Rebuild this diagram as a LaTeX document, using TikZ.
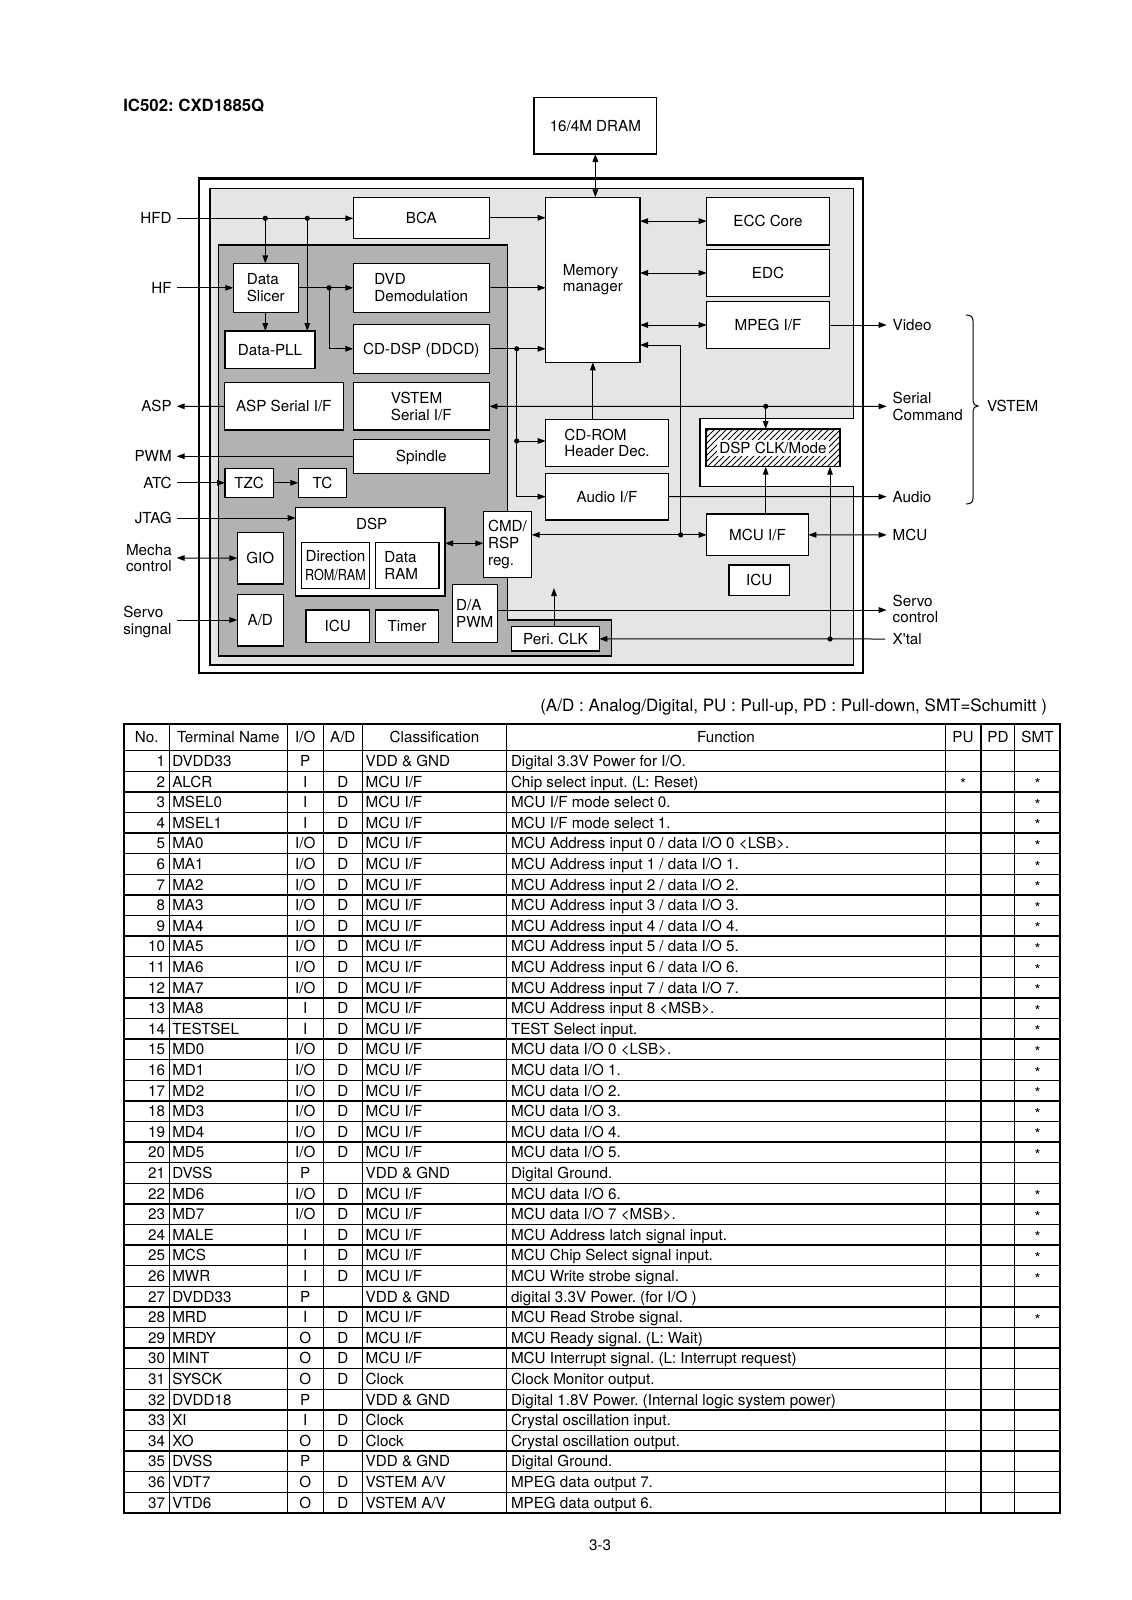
\documentclass[tikz,border=0pt]{standalone}
\usepackage{fontspec}
\setmainfont{TeX Gyre Heros}
\usepackage{graphicx}
\usetikzlibrary{arrows.meta,patterns}
\frenchspacing
\definecolor{lightreg}{gray}{0.9}
\definecolor{darkreg}{gray}{0.7}
\newcommand\mybox[7][]{%
  \node[box,#1,minimum width={(#5-#3)/2},minimum height={(#6-#4)/2}] (#2) at ({(#3+#5)/2},{(#4+#6)/2}) {#7};}
\newcommand\tabrow[8]{%
  \pgfmathsetmacro\ry{740.4+#1*20.6}%
  \node[one,anchor=east] (no#1) at (165,\ry) {#1};
  \node[one,anchor=west] (tn#1) at (172.3,\ry) {#2};
  \node[one] (io#1) at (305.3,\ry) {#3};
  \if\relax\detokenize{#4}\relax\else\node[one] (ad#1) at (342.8,\ry) {#4};\fi
  \node[one,anchor=west] (cl#1) at (365.7,\ry) {#5};
  \node[one,anchor=west] (fn#1) at (511,\ry) {#6};
  \if\relax\detokenize{#7}\relax\else\node[one,star] (pu#1) at (963,\ry) {#7};\fi
  \if\relax\detokenize{#8}\relax\else\node[one,star] (smt#1) at (1037.5,\ry) {#8};\fi
}
\begin{document}
\begin{tikzpicture}[x=0.5pt,y=-0.5pt,
  every node/.style={font=\fontsize{7.6}{8.3}\selectfont, inner sep=0pt, outer sep=0pt},
  box/.style={draw, line width=0.65pt, fill=white},
  ln/.style={line width=0.5pt},
  arr/.style={ln, -{Triangle[length=4pt,width=2.8pt]}},
  darr/.style={ln, {Triangle[length=4pt,width=2.8pt]}-{Triangle[length=4pt,width=2.8pt]}},
  one/.style={text height=5.5pt, text depth=0pt},
  star/.style={yshift=-1.3pt},
  tline/.style={line width=0.65pt}]
\fill[white] (0,0) rectangle (1131,1600);
\useasboundingbox (0,0) rectangle (1131,1600);

% title
\node[anchor=west, font={\fontsize{8.4}{10}\selectfont\bfseries}, text height=6pt, text depth=0pt] (title) at (123.3,106) {IC502: CXD1885Q};

% regions
\draw[line width=1.1pt, fill=white] (199.3,178.5) rectangle (863.3,673.3);
\draw[line width=0.65pt, fill=lightreg] (210,188.3) -- (853.3,188.3) -- (853.3,418.3) -- (700,418.3) -- (700,486.7) -- (853.3,486.7) -- (853.3,665) -- (210,665) -- cycle;
\draw[line width=0.65pt, fill=darkreg] (218.3,245) -- (507.7,245) -- (507.7,620) -- (611.7,620) -- (611.7,656) -- (218.3,656) -- cycle;

% boxes
\mybox[one]{dram}{534}{97.3}{656.7}{154}{16/4M DRAM}
\mybox[one]{bca}{353.3}{197.3}{489.3}{238.3}{BCA}
\mybox[align=left]{slicer}{233.3}{263.3}{298.3}{312.3}{Data\\Slicer}
\mybox[align=left]{dvd}{353.3}{263.3}{489.3}{312.3}{DVD\\Demodulation}
\mybox[one]{pll}{225}{331}{315}{368.3}{Data-PLL}
\mybox[one]{cddsp}{353.3}{324.3}{489.3}{373.3}{CD-DSP (DDCD)}
\mybox[align=left]{mm}{545.7}{197.3}{640}{362.3}{Memory\\manager}
\mybox[one]{ecc}{706.7}{197.3}{829.3}{245}{ECC Core}
\mybox[one]{edc}{706.7}{249.3}{829.3}{296.7}{EDC}
\mybox[one]{mpeg}{706.7}{301.3}{829.3}{348.7}{MPEG I/F}
\mybox[one]{asp}{224.3}{382.7}{343.3}{430}{ASP Serial I/F}
\mybox[align=left]{vsif}{353.3}{382.7}{489.3}{430}{VSTEM\\Serial I/F}
\mybox[one]{spindle}{353.3}{439.3}{489.3}{473.3}{Spindle}
\mybox[one]{tzc}{225}{468.3}{273.3}{497.3}{TZC}
\mybox[one]{tc}{298.3}{468.3}{346.7}{497.3}{TC}
\mybox{dsp}{295.7}{507.7}{445}{596}{}
\node[one] (dsplbl) at (371.7,524.3) {DSP};
\mybox[align=center,font=\fontsize{7.6}{9.5}\selectfont]{dir}{301.7}{542.3}{369.3}{588.3}{Direction\\\scalebox{0.83}[1]{ROM/RAM}}
\mybox[align=left,text width=23pt]{dataram}{375.7}{542.3}{439}{588.3}{Data\\RAM}
\mybox[one]{gio}{237.3}{532.3}{283.3}{584}{GIO}
\mybox[one]{ad}{237.3}{594.3}{283.3}{646}{A/D}
\mybox[one]{icua}{306}{610}{369.3}{642.3}{ICU}
\mybox[one]{timer}{375.7}{610}{438.3}{642.3}{Timer}
\mybox[align=left,font=\fontsize{7.6}{8.7}\selectfont]{cmd}{483.3}{511.7}{531.7}{577.3}{CMD/\\RSP\\reg.}
\mybox[align=left]{dapwm}{452.3}{584.3}{497.3}{642.3}{D/A\\PWM}
\mybox[one]{peri}{511.7}{626.7}{599.3}{651}{Peri. CLK}
\mybox[align=left]{cdrom}{545.7}{419.3}{668.3}{466.7}{CD-ROM\\Header Dec.}
\mybox[one]{audioif}{545.7}{473.3}{668.3}{520}{Audio I/F}
\mybox[preaction={fill=white},pattern=north east lines]{dspclk}{706}{429}{840}{466.7}{{\setlength\fboxsep{1.2pt}\colorbox{white}{DSP CLK/Mode}}}
\mybox[one]{mcuif}{706.7}{514}{808.3}{555.7}{MCU I/F}
\mybox[one]{icub}{729}{565}{789.3}{595.7}{ICU}

% left labels
\node[one,anchor=east] (hfd) at (171.7,218.3) {HFD};
\node[one,anchor=east] (hf) at (171.7,287.8) {HF};
\node[one,anchor=east] (asplbl) at (171.7,406.3) {ASP};
\node[one,anchor=east] (pwm) at (171.7,456.3) {PWM};
\node[one,anchor=east] (atc) at (171.7,482.8) {ATC};
\node[one,anchor=east] (jtag) at (171.7,518) {JTAG};
\node[align=center,anchor=east] (mecha) at (171.7,558) {Mecha\\control};
\node[align=left,anchor=west] (servos) at (123.3,622) {Servo\\singnal};

% right labels
\node[one,anchor=west] (video) at (892.7,325) {Video};
\node[align=left,anchor=west] (sercmd) at (892.7,406.3) {Serial\\Command};
\node[one,anchor=west] (audio) at (892.7,496.7) {Audio};
\node[one,anchor=west] (mcu) at (892.7,534.9) {MCU};
\node[align=left,anchor=west] (servoc) at (892.7,609) {Servo\\control};
\node[one,anchor=west] (xtal) at (892.7,639) {X\textquotesingle tal};
\node[one,anchor=west] (vstem) at (987,406) {VSTEM};

% coordinates
\coordinate (j1) at (265.3,218.3);
\coordinate (j2) at (307.3,218.3);
\coordinate (j3) at (329,287.8);
\coordinate (j4) at (516.7,348.8);
\coordinate (j5) at (516.7,441);
\coordinate (j6) at (765.7,406.3);
\coordinate (j7) at (680.7,534.9);
\coordinate (j8) at (830,639);
\coordinate (hfdS) at (176.7,218.3);
\coordinate (hfS) at (176.7,287.8);
\coordinate (aspE) at (176.7,406.3);
\coordinate (pwmE) at (176.7,456.3);
\coordinate (atcS) at (176.7,482.8);
\coordinate (jtagS) at (176.7,518);
\coordinate (mechaE) at (176.7,558);
\coordinate (servoS) at (176.7,620);
\coordinate (videoE) at (886.7,325);
\coordinate (sercmdE) at (886.7,406.3);
\coordinate (audioE) at (886.7,496.7);
\coordinate (mcuE) at (886.7,534.9);
\coordinate (servocE) at (886.7,610);
\coordinate (servocS) at (497.3,610);
\coordinate (xtalS) at (885,639);
\coordinate (pk) at (554,588);
\coordinate (mmin) at (640,345);
\coordinate (dc) at (445,543.3);

% connectors
\draw[arr] (hfdS) -- (hfdS -| bca.west);
\draw[arr] (j1) -- (j1 |- slicer.north);
\draw[arr] (j2) -- (j2 |- pll.north);
\draw[arr] (hfS) -- (slicer.west);
\draw[arr] (slicer.east) -- (dvd.west);
\draw[arr] (j3) |- (cddsp.west);
\draw[arr] (j1 |- slicer.south) -- (j1 |- pll.north);
\draw[arr] (bca.east) -- (bca.east -| mm.west);
\draw[arr] (dvd.east) -- (dvd.east -| mm.west);
\draw[arr] (cddsp.east) -- (cddsp.east -| mm.west);
\draw[arr] (j4) |- (audioif.west);
\draw[arr] (j5) -- (j5 -| cdrom.west);
\draw[darr] (dram.south) -- (dram.south |- mm.north);
\draw[darr] (ecc.west -| mm.east) -- (ecc.west);
\draw[darr] (edc.west -| mm.east) -- (edc.west);
\draw[darr] (mpeg.west -| mm.east) -- (mpeg.west);
\draw[arr] (mpeg.east) -- (videoE);
\draw[arr] (mm.south |- cdrom.north) -- (mm.south);
\draw[darr] (vsif.east) -- (sercmdE);
\draw[arr] (j6) -- (j6 |- dspclk.north);
\draw[arr] (audioif.east) -- (audioE);
\draw[darr] (cmd.east |- mcuif.west) -- (mcuif.west);
\draw[arr] (j7) |- (mmin);
\draw[darr] (mcuif.east) -- (mcuE);
\draw[arr] (mcuif.north -| j6) -- (dspclk.south -| j6);
\draw[arr] (xtalS) -- (peri.east);
\draw[arr] (j8) -- (j8 |- dspclk.south);
\draw[arr] (servocS) -- (servocE);
\draw[arr] (peri.north -| pk) -- (pk);
\draw[arr] (asp.west) -- (aspE);
\draw[arr] (spindle.west) -- (pwmE);
\draw[arr] (atcS) -- (tzc.west);
\draw[arr] (tzc.east) -- (tc.west);
\draw[arr] (jtagS) -- (jtagS -| dsp.west);
\draw[darr] (mechaE) -- (gio.west);
\draw[arr] (servoS) -- (servoS -| ad.west);
\draw[darr] (dc) -- (dc -| cmd.west);
\foreach \j in {j1,j2,j3,j4,j5,j6,j7,j8} \fill (\j) circle[radius=1.3pt];

% brace
\draw[ln] (966,315) .. controls (971,315) and (973,317) .. (973,321) -- (973,401) .. controls (973,404) and (975,406) .. (978,406) .. controls (975,406) and (973,408) .. (973,411) -- (973,498) .. controls (973,502) and (971,504) .. (966,504);

% note
\node[anchor=east, font=\fontsize{8.5}{10}\selectfont, text height=6.1pt, text depth=0pt] (note) at (1047,705) {(A/D : Analog/Digital, PU : Pull-up, PD : Pull-down, SMT=Schumitt )};

% table grid
\draw[tline] (124,724) rectangle (1060,1512.9);
\foreach \n in {0,...,36} \draw[tline] (124,{750.7+\n*20.6}) -- (1060,{750.7+\n*20.6});
\foreach \x in {169.3,287.3,323.3,362.3,506.7,945.5,981,1014.7} \draw[tline] (\x,724) -- (\x,1512.9);

% header
\node[one] (hno) at (146.7,737.4) {No.};
\node[one] (hname) at (228.3,737.4) {Terminal Name};
\node[one] (hio) at (305.3,737.4) {I/O};
\node[one] (had) at (342.8,737.4) {A/D};
\node[one] (hcls) at (434.5,737.4) {Classification};
\node[one] (hfn) at (726,737.4) {Function};
\node[one] (hpu) at (963,737.4) {PU};
\node[one] (hpd) at (998,737.4) {PD};
\node[one] (hsmt) at (1037.5,737.4) {SMT};

\tabrow{1}{DVDD33}{P}{}{VDD \& GND}{Digital 3.3V Power for I/O.}{}{}
\tabrow{2}{ALCR}{I}{D}{MCU I/F}{Chip select input. (L: Reset)}{*}{*}
\tabrow{3}{MSEL0}{I}{D}{MCU I/F}{MCU I/F mode select 0.}{}{*}
\tabrow{4}{MSEL1}{I}{D}{MCU I/F}{MCU I/F mode select 1.}{}{*}
\tabrow{5}{MA0}{I/O}{D}{MCU I/F}{MCU Address input 0 / data I/O 0 \textless LSB\textgreater.}{}{*}
\tabrow{6}{MA1}{I/O}{D}{MCU I/F}{MCU Address input 1 / data I/O 1.}{}{*}
\tabrow{7}{MA2}{I/O}{D}{MCU I/F}{MCU Address input 2 / data I/O 2.}{}{*}
\tabrow{8}{MA3}{I/O}{D}{MCU I/F}{MCU Address input 3 / data I/O 3.}{}{*}
\tabrow{9}{MA4}{I/O}{D}{MCU I/F}{MCU Address input 4 / data I/O 4.}{}{*}
\tabrow{10}{MA5}{I/O}{D}{MCU I/F}{MCU Address input 5 / data I/O 5.}{}{*}
\tabrow{11}{MA6}{I/O}{D}{MCU I/F}{MCU Address input 6 / data I/O 6.}{}{*}
\tabrow{12}{MA7}{I/O}{D}{MCU I/F}{MCU Address input 7 / data I/O 7.}{}{*}
\tabrow{13}{MA8}{I}{D}{MCU I/F}{MCU Address input 8 \textless MSB\textgreater.}{}{*}
\tabrow{14}{TESTSEL}{I}{D}{MCU I/F}{TEST Select input.}{}{*}
\tabrow{15}{MD0}{I/O}{D}{MCU I/F}{MCU data I/O 0 \textless LSB\textgreater.}{}{*}
\tabrow{16}{MD1}{I/O}{D}{MCU I/F}{MCU data I/O 1.}{}{*}
\tabrow{17}{MD2}{I/O}{D}{MCU I/F}{MCU data I/O 2.}{}{*}
\tabrow{18}{MD3}{I/O}{D}{MCU I/F}{MCU data I/O 3.}{}{*}
\tabrow{19}{MD4}{I/O}{D}{MCU I/F}{MCU data I/O 4.}{}{*}
\tabrow{20}{MD5}{I/O}{D}{MCU I/F}{MCU data I/O 5.}{}{*}
\tabrow{21}{DVSS}{P}{}{VDD \& GND}{Digital Ground.}{}{}
\tabrow{22}{MD6}{I/O}{D}{MCU I/F}{MCU data I/O 6.}{}{*}
\tabrow{23}{MD7}{I/O}{D}{MCU I/F}{MCU data I/O 7 \textless MSB\textgreater.}{}{*}
\tabrow{24}{MALE}{I}{D}{MCU I/F}{MCU Address latch signal input.}{}{*}
\tabrow{25}{MCS}{I}{D}{MCU I/F}{MCU Chip Select signal input.}{}{*}
\tabrow{26}{MWR}{I}{D}{MCU I/F}{MCU Write strobe signal.}{}{*}
\tabrow{27}{DVDD33}{P}{}{VDD \& GND}{digital 3.3V Power. (for I/O )}{}{}
\tabrow{28}{MRD}{I}{D}{MCU I/F}{MCU Read Strobe signal.}{}{*}
\tabrow{29}{MRDY}{O}{D}{MCU I/F}{MCU Ready signal. (L: Wait)}{}{}
\tabrow{30}{MINT}{O}{D}{MCU I/F}{MCU Interrupt signal. (L: Interrupt request)}{}{}
\tabrow{31}{SYSCK}{O}{D}{Clock}{Clock Monitor output.}{}{}
\tabrow{32}{DVDD18}{P}{}{VDD \& GND}{Digital 1.8V Power. (Internal logic system power)}{}{}
\tabrow{33}{XI}{I}{D}{Clock}{Crystal oscillation input.}{}{}
\tabrow{34}{XO}{O}{D}{Clock}{Crystal oscillation output.}{}{}
\tabrow{35}{DVSS}{P}{}{VDD \& GND}{Digital Ground.}{}{}
\tabrow{36}{VDT7}{O}{D}{VSTEM A/V}{MPEG data output 7.}{}{}
\tabrow{37}{VTD6}{O}{D}{VSTEM A/V}{MPEG data output 6.}{}{}

% page number
\node[one] (page) at (600,1545) {3-3};
\end{tikzpicture}
\end{document}
